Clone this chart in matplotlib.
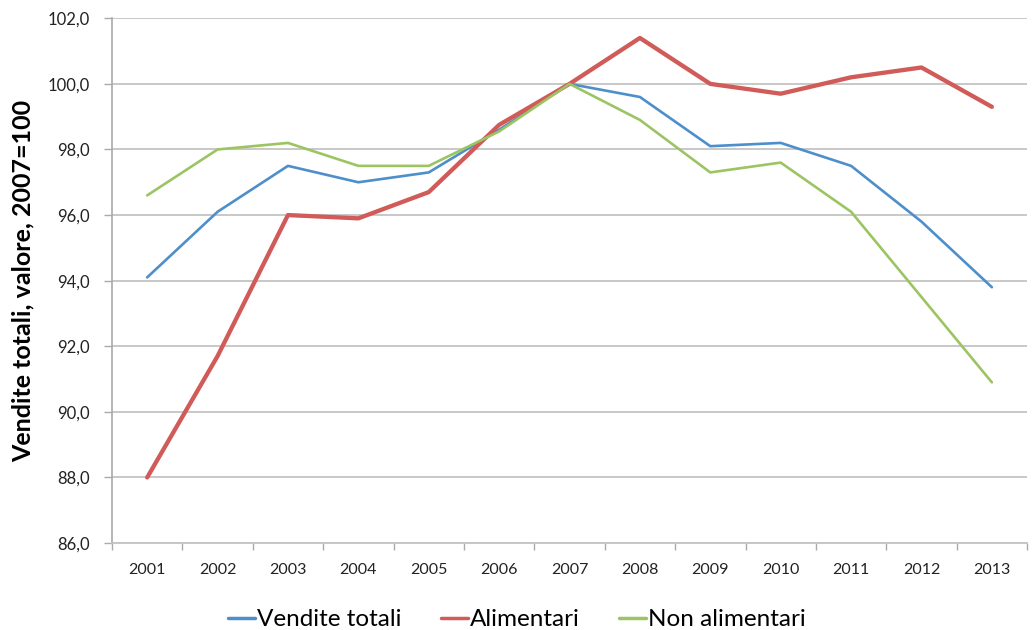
import matplotlib
matplotlib.use("Agg")
import matplotlib.pyplot as plt
import numpy as np

years = ["2001", "2002", "2003", "2004", "2005", "2006", "2007",
         "2008", "2009", "2010", "2011", "2012", "2013"]
vendite_totali = [94.1, 96.1, 97.5, 97.0, 97.3, 98.6, 100.0,
                  99.6, 98.1, 98.2, 97.5, 95.8, 93.8]
alimentari = [88.0, 91.7, 96.0, 95.9, 96.7, 98.75, 100.0,
              101.4, 100.0, 99.7, 100.2, 100.5, 99.3]
non_alimentari = [96.6, 98.0, 98.2, 97.5, 97.5, 98.55, 100.0,
                  98.9, 97.3, 97.6, 96.1, 93.5, 90.9]
y_ticks = [86, 88, 90, 92, 94, 96, 98, 100, 102]

plt.rcParams['font.family'] = ['Lato', 'DejaVu Sans']

fig = plt.figure(figsize=(10.34, 6.30), dpi=100)
ax = fig.add_axes([0.1083, 0.138, 0.885, 0.833])

x = np.arange(len(years))
ax.plot(x, vendite_totali, color='#4d8fcb', lw=1.9, label='Vendite totali', solid_capstyle='round')
ax.plot(x, alimentari, color='#d05b58', lw=3.1, label='Alimentari', solid_capstyle='round')
ax.plot(x, non_alimentari, color='#9cc463', lw=1.9, label='Non alimentari', solid_capstyle='round')

ax.set_xlim(-0.5, len(years) - 0.5)
ax.set_ylim(86, 102)
ax.set_yticks(y_ticks)
ax.set_yticklabels([f"{v:.1f}".replace('.', ',') for v in y_ticks], fontsize=12, color='#222222')
ax.yaxis.grid(True, color='#c4c4c4', lw=1.3)
ax.set_axisbelow(True)

ax.set_xticks(np.arange(-0.5, len(years), 1.0))
ax.set_xticklabels([])
ax.set_xticks(x, minor=True)
ax.set_xticklabels(years, minor=True, fontsize=11.5, color='#222222')
ax.tick_params(axis='x', which='major', length=5, color='#aaaaaa', width=1)
ax.tick_params(axis='x', which='minor', length=0, pad=14)
ax.tick_params(axis='y', length=6, color='#aaaaaa', width=1, pad=10)

for s in ['top', 'right']:
    ax.spines[s].set_visible(False)
ax.spines['left'].set_color('#aaaaaa')
ax.spines['bottom'].set_color('#c4c4c4')
ax.spines['left'].set_linewidth(1.2)
ax.spines['bottom'].set_linewidth(1.3)

ax.set_ylabel('Vendite totali, valore, 2007=100', fontsize=18, fontweight='bold', labelpad=9)

leg = fig.legend(loc='lower center', bbox_to_anchor=(0.5, -0.035), ncol=3, frameon=False,
                 fontsize=17.5, handlelength=1.1, handletextpad=0.1, columnspacing=1.6)
for line in leg.get_lines():
    line.set_linewidth(2.5)

fig.savefig('out.png', dpi=100)
